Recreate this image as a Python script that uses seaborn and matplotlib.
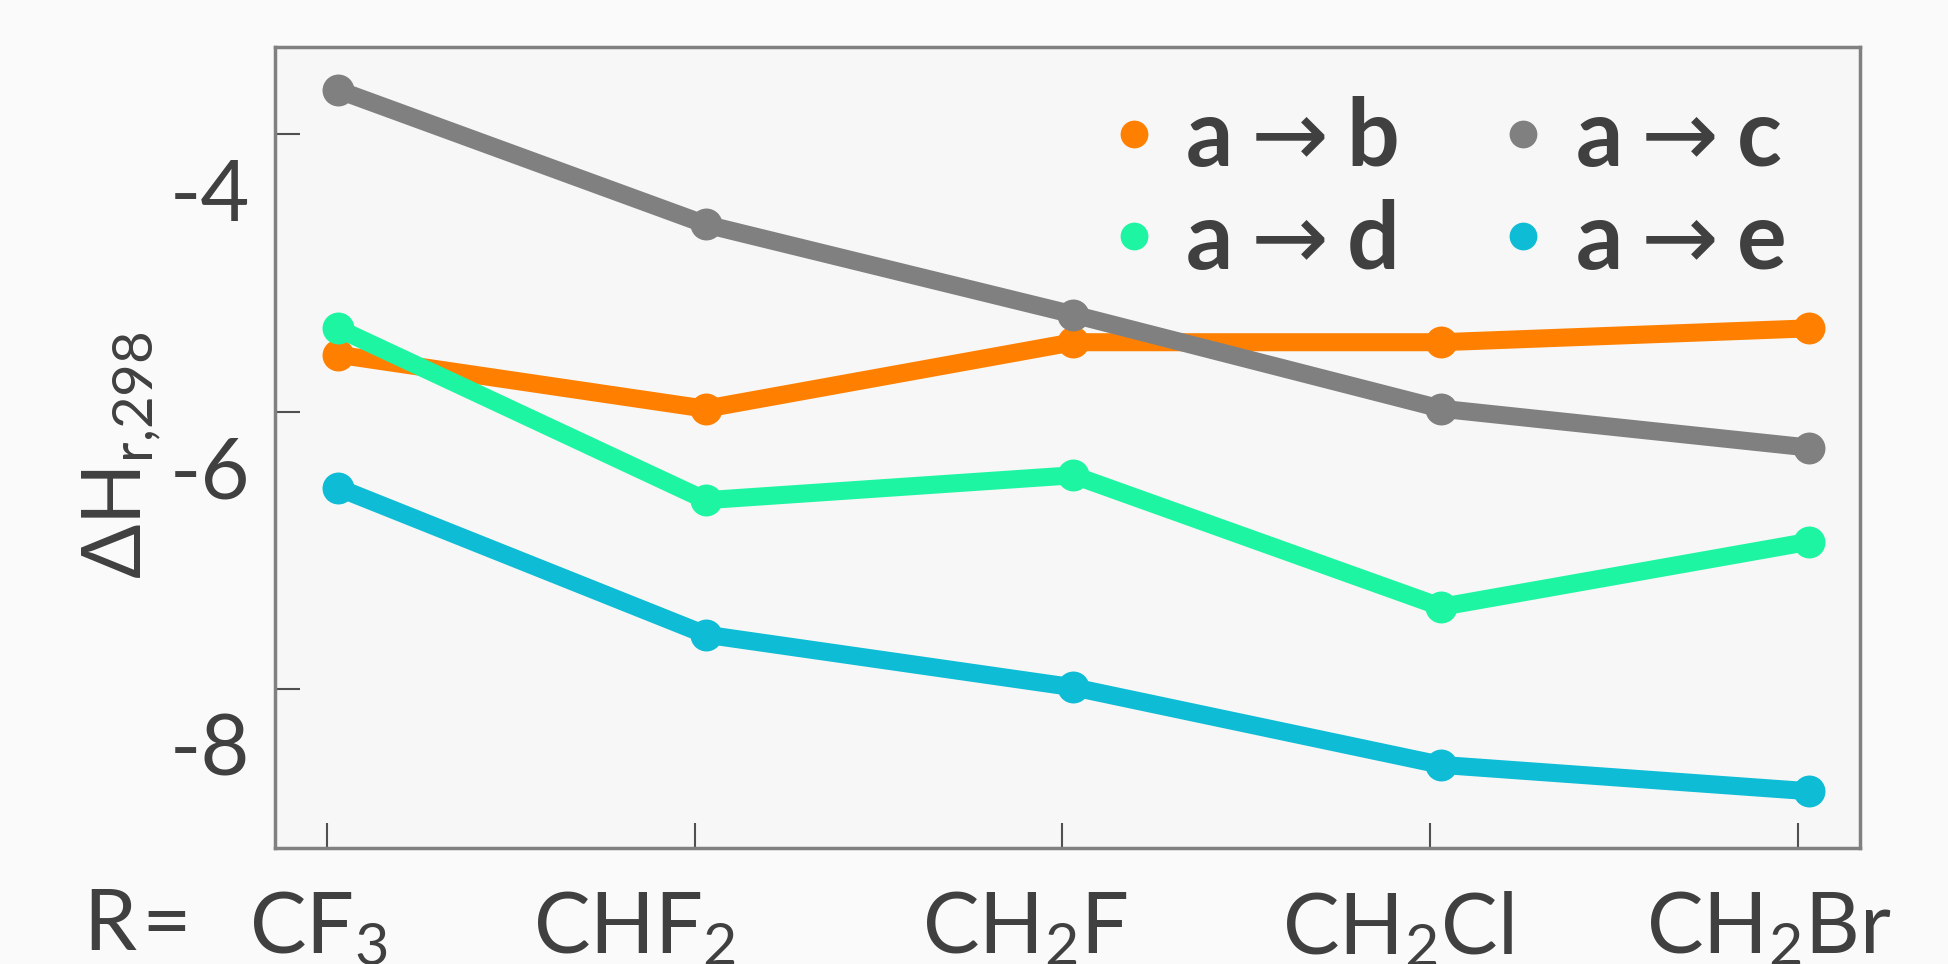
import numpy as np
import pandas as pd
import matplotlib
matplotlib.use('Agg')
import matplotlib.pyplot as plt
import matplotlib.transforms as mtransforms
from matplotlib.lines import Line2D
import seaborn as sns

# values
substituents = ['CF$_{3}$', 'CHF$_{2}$', 'CH$_{2}$F', 'CH$_{2}$Cl', 'CH$_{2}$Br']
reactions = [r'a$\rightarrow$b', r'a$\rightarrow$c', r'a$\rightarrow$d', r'a$\rightarrow$e']
a_to_b = [-5.59, -5.98, -5.50, -5.50, -5.40]
a_to_c = [-3.68, -4.65, -5.30, -5.98, -6.26]
a_to_d = [-5.40, -6.64, -6.46, -7.41, -6.94]
a_to_e = [-6.55, -7.61, -7.99, -8.55, -8.74]
colors = ['#ff8000', '#808080', '#1ef5a2', '#0ebcd5']
yticks = [-4, -6, -8]

# long form table for seaborn
rows = []
for name, vals in zip(reactions, [a_to_b, a_to_c, a_to_d, a_to_e]):
    for i, v in enumerate(vals):
        rows.append({'pos': i, 'dH': v, 'reaction': name})
df = pd.DataFrame(rows)

sns.set_theme(style='ticks')
plt.rcParams['font.family'] = ['Lato', 'DejaVu Sans']
plt.rcParams['mathtext.fontset'] = 'custom'
plt.rcParams['mathtext.rm'] = 'Lato'
plt.rcParams['mathtext.it'] = 'Lato:italic'
plt.rcParams['mathtext.bf'] = 'Lato:bold'
text_col = '#404040'

fig = plt.figure(figsize=(19.48, 9.64), dpi=100, facecolor='#fafafa')
ax = fig.add_axes([0.1412, 0.1203, 0.8136, 0.8309])
ax.set_facecolor('#f7f7f7')

sns.lineplot(data=df, x='pos', y='dH', hue='reaction', palette=colors,
             marker='o', markersize=23, markeredgewidth=0, linewidth=13,
             sort=False, legend=False, ax=ax)

ax.set_xlim(-0.171, 4.139)
ax.set_ylim(-9.15, -3.37)

# axes frame
for sp in ax.spines.values():
    sp.set_visible(True)
    sp.set_color('#808080')
    sp.set_linewidth(2.5)

# ticks point inward, labels are shifted away from the tick marks
ax.set_yticks(yticks)
ax.set_yticklabels([str(t) for t in yticks])
ax.set_xticks(np.arange(len(substituents)) - 0.03)
ax.set_xticklabels(substituents)
ax.tick_params(axis='both', direction='in', length=18, width=1.5,
               color='#505050', labelcolor=text_col, labelsize=61)
ax.tick_params(axis='y', pad=18)
ax.tick_params(axis='x', pad=30)

dy = mtransforms.ScaledTranslation(0, -0.55, fig.dpi_scale_trans)
for lab in ax.get_yticklabels():
    lab.set_transform(lab.get_transform() + dy)
# small horizontal nudges of the substituent labels (inches)
label_nudge = [-0.085, -0.60, -0.37, -0.33, -0.29]
for lab, nx in zip(ax.get_xticklabels(), label_nudge):
    lab.set_transform(lab.get_transform()
                      + mtransforms.ScaledTranslation(nx, 0, fig.dpi_scale_trans))

ax.set_xlabel('')
ax.set_ylabel('')
fig.text(0.0625, 0.528, r'$\Delta$H$_{\mathrm{r{,}298}}$', rotation=90,
         ha='center', va='center', fontsize=58, color=text_col)
fig.text(0.043, 0.0145, 'R\u200a=', ha='left', va='baseline',
         fontsize=61, color=text_col)

# legend: markers only, two columns
handles = [Line2D([], [], linestyle='none', marker='o', markersize=20,
                  markeredgewidth=0, color=c) for c in colors]
order = [0, 2, 1, 3]
leg = ax.legend([handles[i] for i in order], [reactions[i] for i in order],
                ncol=2, frameon=False, loc='upper right',
                bbox_to_anchor=(0.976, 0.985),
                prop={'weight': 'bold', 'size': 67, 'math_fontfamily': 'dejavusans'},
                handlelength=0.6, handletextpad=0.25, columnspacing=1.05,
                labelspacing=0.18, borderaxespad=0)
for t in leg.get_texts():
    t.set_color(text_col)

fig.savefig('out.png', dpi=100, facecolor=fig.get_facecolor())
